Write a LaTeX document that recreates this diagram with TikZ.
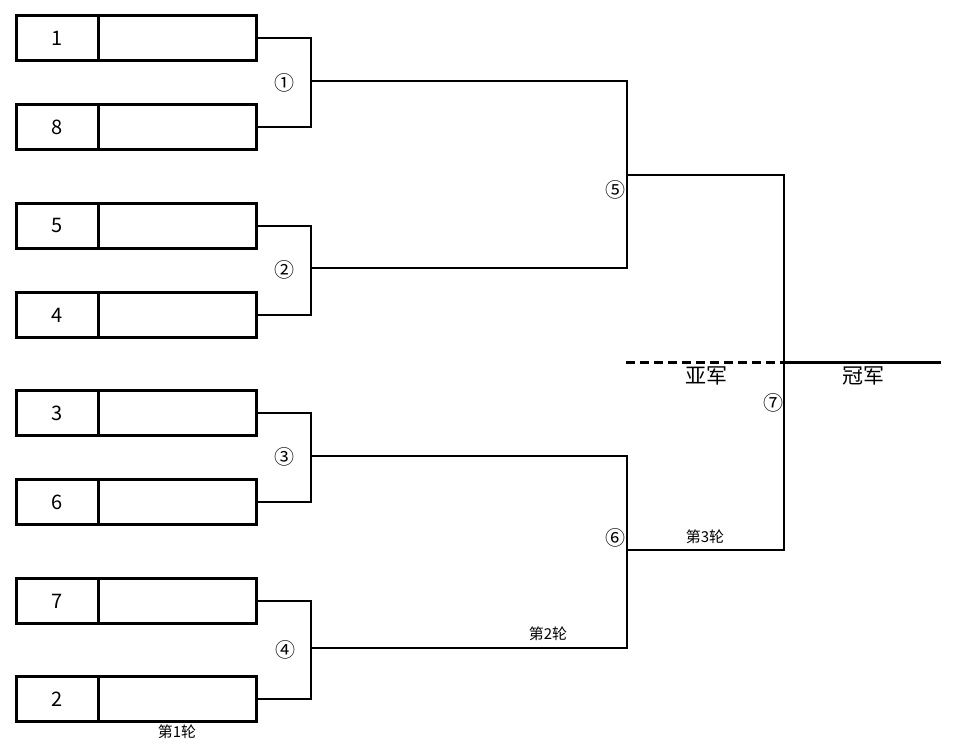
\documentclass[tikz,border=0pt]{standalone}
\usepackage{fontspec}
\setmainfont{Noto Sans CJK SC}
\begin{document}
\begin{tikzpicture}[x=1pt,y=-1pt,
  numcell/.style={draw,line width=2.9pt,minimum width=82pt,minimum height=45pt,anchor=north west,inner sep=0pt,font=\fontsize{20}{20}\selectfont},
  namecell/.style={draw,line width=2.9pt,minimum width=158pt,minimum height=45pt,anchor=north west,inner sep=0pt},
  conn/.style={line width=2.2pt},
  circ/.style={font=\fontsize{20}{20}\selectfont,inner sep=0pt},
  rnd/.style={font=\fontsize{15}{15}\selectfont,inner sep=0pt},
  big/.style={font=\fontsize{21}{21}\selectfont,inner sep=0pt}]
\useasboundingbox (0,0) rectangle (957,752);
% teams
\foreach \lab/\top [count=\i] in {1/14,8/103,5/202,4/291,3/389,6/478,7/577,2/675}{
  \node[numcell] (n\i) at (15,\top) {\lab};
  \node[namecell] (t\i) at (97,\top) {};
}
% match points
\coordinate (m1) at (311,81);
\coordinate (m2) at (311,268);
\coordinate (m3) at (311,456);
\coordinate (m4) at (311,648);
\coordinate (m5) at (627,175);
\coordinate (m6) at (627,550);
\coordinate (m7) at (784,362);
\coordinate (ru) at (626,362);
\coordinate (ch) at (941,362);
% round 1
\draw[conn] (t1.east) -| (m1) |- (t2.east);
\draw[conn] (t3.east) -| (m2) |- (t4.east);
\draw[conn] (t5.east) -| (m3) |- (t6.east);
\draw[conn] (t7.east) -| (m4) |- (t8.east);
% round 2
\draw[conn] (m1) -| (m5) |- (m2);
\draw[conn] (m3) -| (m6) |- (m4);
% round 3
\draw[conn] (m5) -| (m7) |- (m6);
\draw[line width=3pt,dash pattern=on 9pt off 5pt] (ru) -- (m7);
\draw[line width=3pt] (m7) -- (ch);
% labels
\node[circ] (c1) at (284,83) {①};
\node[circ] (c2) at (284,270) {②};
\node[circ] (c3) at (284,457) {③};
\node[circ] (c4) at (285,650) {④};
\node[circ] (c5) at (615,190) {⑤};
\node[circ] (c6) at (615,538) {⑥};
\node[circ] (c7) at (773,403) {⑦};
\node[big] (ya) at (706,376) {亚军};
\node[big] (gu) at (863,376) {冠军};
\node[rnd] (r3) at (705,537) {第3轮};
\node[rnd] (r2) at (548,634) {第2轮};
\node[rnd] (r1) at (177,732) {第1轮};
\end{tikzpicture}
\end{document}
